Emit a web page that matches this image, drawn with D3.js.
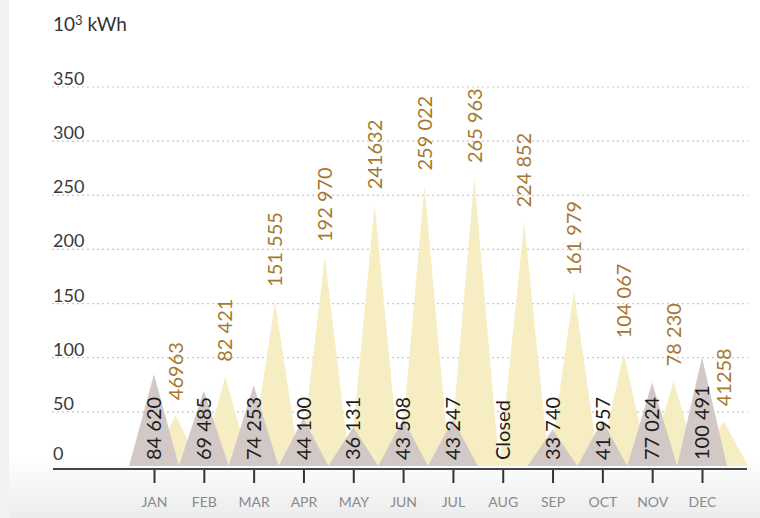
<!DOCTYPE html>
<html>
<head>
<meta charset="utf-8">
<script src="https://cdn.jsdelivr.net/npm/d3@7/dist/d3.min.js"></script>
<style>
  html, body { margin: 0; padding: 0; background: #ffffff; }
  svg { display: block; }
</style>
</head>
<body>
<svg id="chart" width="760" height="518"></svg>
<script>
// Monthly energy figures, kWh
const months = ["JAN", "FEB", "MAR", "APR", "MAY", "JUN", "JUL", "AUG", "SEP", "OCT", "NOV", "DEC"];
const consumption = [84620, 69485, 74253, 44100, 36131, 43508, 43247, 0, 33740, 41957, 77024, 100491];
const consumptionLabels = ["84 620", "69 485", "74 253", "44 100", "36 131", "43 508", "43 247", "Closed", "33 740", "41 957", "77 024", "100 491"];
const production = [46963, 82421, 151555, 192970, 241632, 259022, 265963, 224852, 161979, 104067, 78230, 41258];
const productionLabels = ["46963", "82 421", "151 555", "192 970", "241632", "259 022", "265 963", "224 852", "161 979", "104 067", "78 230", "41258"];
const yTicks = [0, 50, 100, 150, 200, 250, 300, 350];

const W = 760, H = 518;
const svg = d3.select("#chart");
const font = "Lato, 'Open Sans', sans-serif";

// soft paper background
const defs = svg.append("defs");
const bg = defs.append("linearGradient").attr("id", "bgfade")
  .attr("x1", 0).attr("y1", 0).attr("x2", 0).attr("y2", 1);
bg.append("stop").attr("offset", "0.88").attr("stop-color", "#ffffff");
bg.append("stop").attr("offset", "1").attr("stop-color", "#ececec");
svg.append("rect").attr("width", W).attr("height", H).attr("fill", "url(#bgfade)");
svg.append("rect").attr("width", 9).attr("height", H).attr("fill", "#f1f1f1");

const x = d3.scalePoint().domain(months).range([154, 702]);
const step = x.step();
const y = d3.scaleLinear().domain([0, 350]).range([466, 87]);
const half = step * 0.5;
const shift = step * 0.43;

// dotted gridlines
svg.append("g").selectAll("line").data(yTicks.filter(d => d > 0)).join("line")
  .attr("x1", 52).attr("x2", 748)
  .attr("y1", d => y(d)).attr("y2", d => y(d))
  .attr("stroke", "#c8c8c8").attr("stroke-width", 1.2)
  .attr("stroke-dasharray", "2,3");

// y tick labels
svg.append("g").selectAll("text").data(yTicks).join("text")
  .attr("x", 53).attr("y", d => d === 0 ? y(d) - 6 : y(d) - 2)
  .attr("font-family", font).attr("font-size", 18).attr("fill", "#3a3a3a")
  .text(d => d);

// unit
const unit = svg.append("text").attr("x", 53).attr("y", 31)
  .attr("font-family", font).attr("font-size", 19).attr("fill", "#333");
unit.append("tspan").text("10");
unit.append("tspan").attr("font-size", 13).attr("dy", -6).text("3");
unit.append("tspan").attr("dy", 6).text(" kWh");

const tri = (cx, v) => {
  const y0 = y(0), yt = y(v / 1000);
  return `M${cx - half},${y0}L${cx},${yt}L${cx + half},${y0}Z`;
};

// production triangles, offset between months
svg.append("g").selectAll("path").data(months).join("path")
  .attr("d", (m, i) => tri(x(m) + shift, production[i]))
  .attr("fill", "#f7edc3");

// consumption triangles, centred on months
svg.append("g").selectAll("path").data(months.filter((m, i) => consumption[i] > 0)).join("path")
  .attr("d", m => tri(x(m), consumption[months.indexOf(m)]))
  .attr("fill", "#d2c8c6");

// x axis
const axis = svg.append("g").attr("transform", `translate(0,${y(0) + 3})`)
  .call(d3.axisBottom(x).tickSize(14).tickPadding(14));
axis.select(".domain").remove();
axis.selectAll(".tick line").attr("stroke", "#333").attr("stroke-width", 2);
axis.selectAll(".tick text").attr("font-family", font).attr("font-size", 14)
  .attr("fill", "#8a8a8a");
svg.append("line").attr("x1", 53).attr("x2", 747)
  .attr("y1", y(0) + 3).attr("y2", y(0) + 3)
  .attr("stroke", "#444").attr("stroke-width", 2);

// consumption labels
svg.append("g").selectAll("text").data(months).join("text")
  .attr("transform", m => `translate(${x(m)},460) rotate(-90)`)
  .attr("dy", "0.36em")
  .attr("font-family", font).attr("font-size", 20).attr("fill", "#1c1c1c")
  .text((m, i) => consumptionLabels[i]);

// production labels above each peak
svg.append("g").selectAll("text").data(months).join("text")
  .attr("transform", (m, i) => `translate(${x(m) + shift},${y(production[i] / 1000) - 15}) rotate(-90)`)
  .attr("dy", "0.36em")
  .attr("font-family", font).attr("font-size", 20).attr("fill", "#a6782f")
  .text((m, i) => productionLabels[i]);
</script>
</body>
</html>
